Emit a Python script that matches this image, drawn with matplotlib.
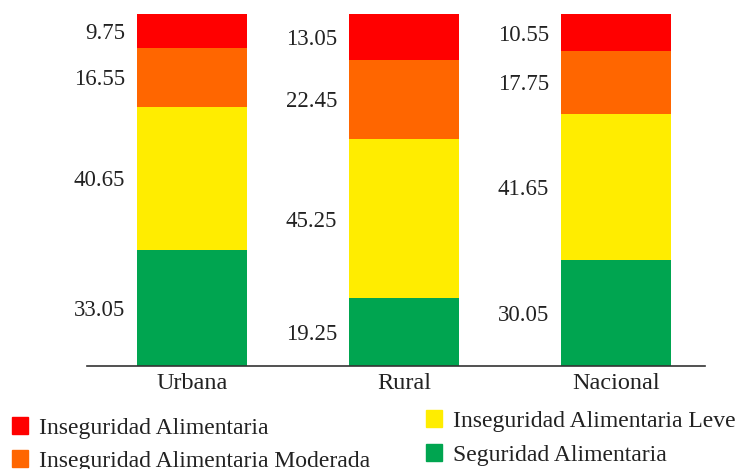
import matplotlib
matplotlib.use('Agg')
import matplotlib.pyplot as plt
from matplotlib.patches import Rectangle

categorias = ['Urbana', 'Rural', 'Nacional']
seguridad = [33.05, 19.25, 30.05]
leve = [40.65, 45.25, 41.65]
moderada = [16.55, 22.45, 17.75]
severa = [9.75, 13.05, 10.55]

series = [
  ('Seguridad Alimentaria', seguridad, '#00A550'),
  ('Inseguridad Alimentaria Leve', leve, '#FFED00'),
  ('Inseguridad Alimentaria Moderada', moderada, '#FF6600'),
  ('Inseguridad Alimentaria', severa, '#FF0000'),
]

plt.rcParams['font.family'] = ['Liberation Serif', 'DejaVu Serif']
txt = '#222222'

fig = plt.figure(figsize=(7.36, 4.69), dpi=100)
ax = fig.add_axes([87/736, 103/469, 618/736, 352/469])

x = list(range(len(categorias)))
w = 0.52
base = [0, 0, 0]
for nom, vals, col in series:
  ax.bar(x, vals, w, bottom=base, color=col, linewidth=0)
  for i, v in enumerate(vals):
    ax.text(x[i] - w/2 - 0.055, base[i] + v/2, '%.2f' % v, ha='right',
            va='center_baseline', fontsize=16.5, color=txt)
  base = [b + v for b, v in zip(base, vals)]

ax.set_xlim(-0.495, 2.42)
ax.set_ylim(0, 100)
for s in ['top', 'right', 'left']:
  ax.spines[s].set_visible(False)
ax.spines['bottom'].set_color('#333333')
ax.spines['bottom'].set_linewidth(1.2)
ax.set_yticks([])
ax.set_xticks(x)
ax.set_xticklabels(categorias, fontsize=17.5, color=txt)
ax.tick_params(axis='x', length=0, pad=5)

# leyenda
ley = [
  ('Inseguridad Alimentaria', '#FF0000', 12, 426),
  ('Inseguridad Alimentaria Moderada', '#FF6600', 12, 459),
  ('Inseguridad Alimentaria Leve', '#FFED00', 426, 419),
  ('Seguridad Alimentaria', '#00A550', 426, 453),
]
for nom, col, px, py in ley:
  fig.patches.append(Rectangle((px/736, (469-py-8)/469), 16/736, 17/469,
                               transform=fig.transFigure, color=col))
  fig.text((px + 27)/736, (469-py)/469, nom, ha='left', va='center_baseline',
           fontsize=17, color=txt)

fig.savefig('out.png', dpi=100)
